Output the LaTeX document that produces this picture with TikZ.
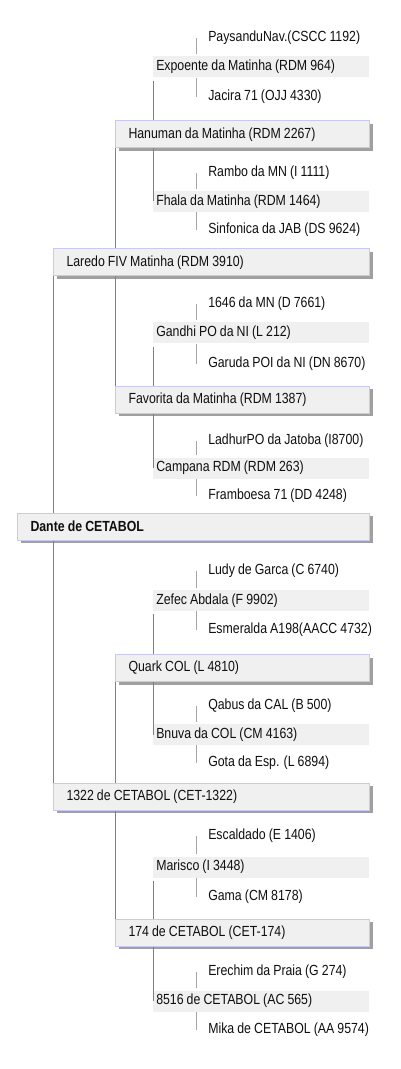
\documentclass[tikz,border=0pt]{standalone}
\usepackage{fontspec}
\setmainfont{Liberation Sans}[FakeStretch=0.84, WordSpace={0.9,0,0}]
\usepackage{tikz}
\usetikzlibrary{shadows}
\definecolor{boxline}{RGB}{200,200,240}
\definecolor{boxfill}{RGB}{240,240,240}
\definecolor{shadowgray}{RGB}{160,160,160}
\definecolor{linegray}{RGB}{128,128,128}
\definecolor{sirelinegray}{RGB}{165,165,165}
\definecolor{textgray}{RGB}{15,15,15}

\begin{document}
\begin{tikzpicture}[x=0.75pt, y=-0.75pt]
  \tikzset{every node/.style={font=\fontsize{11}{13}\selectfont, text=textgray},
           framed/.style={anchor=west, draw=boxline, line width=0.75pt, fill=boxfill,
                          minimum height=20.25pt, inner xsep=9.75pt, inner ysep=0pt, align=flush left,
                          drop shadow={shadow xshift=2.25pt, shadow yshift=-2.25pt,
                                       fill=shadowgray, opacity=1}},
           subject/.style={framed, text width=244.5pt, font=\fontsize{11}{13}\selectfont\bfseries},
           parent/.style={framed, text width=217.5pt},
           grandparent/.style={framed, text width=171pt},
           greatgp/.style={anchor=west, fill=boxfill, minimum height=15.75pt, inner xsep=2.25pt,
                           inner ysep=0pt, text width=157.5pt, align=flush left},
           ancestor/.style={anchor=west, inner sep=0pt},
           dam/.style={draw=linegray, line width=0.75pt},
           sire/.style={draw=sirelinegray, line width=0.75pt}}
  \useasboundingbox (0,0) rectangle (400,1069);
  \coordinate (col4) at (196,0);
  % subject and parents
  \node[subject] (dante) at (17,526.5) {Dante de CETABOL};
  \node[parent] (laredo) at (53,262.5) {Laredo FIV Matinha (RDM 3910)};
  \node[parent] (cet1322) at (53,796.5) {1322 de CETABOL (CET-1322)};
  % grandparents
  \node[grandparent] (hanuman) at (115,134.5) {Hanuman da Matinha (RDM 2267)};
  \node[grandparent] (favorita) at (115,399.5) {Favorita da Matinha (RDM 1387)};
  \node[grandparent] (quark) at (115,668) {Quark COL (L 4810)};
  \node[grandparent] (cet174) at (115,932.5) {174 de CETABOL (CET-174)};
  % great-grandparents
  \node[greatgp] (expoente) at (153,67) {Expoente da Matinha (RDM 964)};
  \node[greatgp] (fhala) at (153,201.5) {Fhala da Matinha (RDM 1464)};
  \node[greatgp] (gandhi) at (153,333) {Gandhi PO da NI (L 212)};
  \node[greatgp] (campana) at (153,468) {Campana RDM (RDM 263)};
  \node[greatgp] (zefec) at (153,600.5) {Zefec Abdala (F 9902)};
  \node[greatgp] (bnuva) at (153,734.5) {Bnuva da COL (CM 4163)};
  \node[greatgp] (marisco) at (153,867) {Marisco (I 3448)};
  \node[greatgp] (cet8516) at (153,1001) {8516 de CETABOL (AC 565)};
  % fourth generation
  \node[ancestor] (paysandu) at (208,38) {PaysanduNav.(CSCC 1192)};
  \node[ancestor] (jacira) at (208,97) {Jacira 71 (OJJ 4330)};
  \node[ancestor] (rambo) at (208,173) {Rambo da MN (I 1111)};
  \node[ancestor] (sinfonica) at (208,230) {Sinfonica da JAB (DS 9624)};
  \node[ancestor] (mn1646) at (208,304) {1646 da MN (D 7661)};
  \node[ancestor] (garuda) at (208,364) {Garuda POI da NI (DN 8670)};
  \node[ancestor] (ladhur) at (208,441) {LadhurPO da Jatoba (I8700)};
  \node[ancestor] (framboesa) at (208,496) {Framboesa 71 (DD 4248)};
  \node[ancestor] (ludy) at (208,571) {Ludy de Garca (C 6740)};
  \node[ancestor] (esmeralda) at (208,630) {Esmeralda A198(AACC 4732)};
  \node[ancestor] (qabus) at (208,706) {Qabus da CAL (B 500)};
  \node[ancestor] (gota) at (208,763) {Gota da Esp. (L 6894)};
  \node[ancestor] (escaldado) at (208,836) {Escaldado (E 1406)};
  \node[ancestor] (gama) at (208,897) {Gama (CM 8178)};
  \node[ancestor] (erechim) at (208,972) {Erechim da Praia (G 274)};
  \node[ancestor] (mika) at (208,1030) {Mika de CETABOL (AA 9574)};
  % parent lines
  \draw[dam] (laredo.south west) -- (laredo.south west |- dante.north);
  \draw[dam] (dante.south -| cet1322.west) -- (cet1322.north west);
  % grandparent lines
  \draw[dam] (hanuman.south west) -- (hanuman.south west |- laredo.north);
  \draw[dam] (laredo.south -| favorita.west) -- (favorita.north west);
  \draw[dam] (quark.south west) -- (quark.south west |- cet1322.north);
  \draw[dam] (cet1322.south -| cet174.west) -- (cet174.north west);
  % great-grandparent lines
  \draw[dam, shorten <=2.25pt] (expoente.south west) -- (expoente.south west |- hanuman.north);
  \draw[dam] (hanuman.south -| fhala.west) -- (fhala.west);
  \draw[dam, shorten <=2.25pt] (gandhi.south west) -- (gandhi.south west |- favorita.north);
  \draw[dam] (favorita.south -| campana.west) -- (campana.west);
  \draw[dam, shorten <=2.25pt] (zefec.south west) -- (zefec.south west |- quark.north);
  \draw[dam] (quark.south -| bnuva.west) -- (bnuva.west);
  \draw[dam, shorten <=2.25pt] (marisco.south west) -- (marisco.south west |- cet174.north);
  \draw[dam] (cet174.south -| cet8516.west) -- (cet8516.west);
  % fourth generation lines
  \draw[sire, shorten >=1.5pt] (paysandu -| col4) -- (expoente.north -| col4);
  \draw[sire] (expoente.south -| col4) -- (jacira -| col4);
  \draw[sire, shorten >=1.5pt] (rambo -| col4) -- (fhala.north -| col4);
  \draw[sire] (fhala.south -| col4) -- (sinfonica -| col4);
  \draw[sire, shorten >=1.5pt] (mn1646 -| col4) -- (gandhi.north -| col4);
  \draw[sire] (gandhi.south -| col4) -- (garuda -| col4);
  \draw[sire, shorten >=1.5pt] (ladhur -| col4) -- (campana.north -| col4);
  \draw[sire] (campana.south -| col4) -- (framboesa -| col4);
  \draw[sire, shorten >=1.5pt] (ludy -| col4) -- (zefec.north -| col4);
  \draw[sire] (zefec.south -| col4) -- (esmeralda -| col4);
  \draw[sire, shorten >=1.5pt] (qabus -| col4) -- (bnuva.north -| col4);
  \draw[sire] (bnuva.south -| col4) -- (gota -| col4);
  \draw[sire, shorten >=1.5pt] (escaldado -| col4) -- (marisco.north -| col4);
  \draw[sire] (marisco.south -| col4) -- (gama -| col4);
  \draw[sire, shorten >=1.5pt] (erechim -| col4) -- (cet8516.north -| col4);
  \draw[sire] (cet8516.south -| col4) -- (mika -| col4);
\end{tikzpicture}
\end{document}
